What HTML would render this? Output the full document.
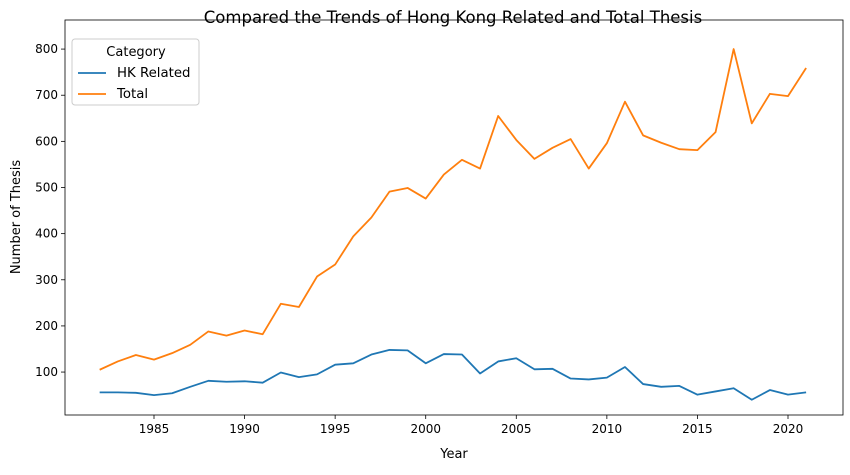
<!DOCTYPE html>
<html><head><meta charset="utf-8"><style>
body{margin:0;background:#fff;font-family:"Liberation Sans","DejaVu Sans",sans-serif}
svg text{font-family:"DejaVu Sans","Liberation Sans",sans-serif}
</style></head><body>
<svg id="c" width="850" height="470"></svg>
<script>
const years=[];for(let y=1982;y<=2021;y++)years.push(y);
const hkRelated=[56,56,55,50,54,68,81,79,80,77,99,89,95,116,119,138,148,147,119,139,138,97,123,130,106,107,86,84,88,111,74,68,70,51,58,65,40,61,51,56];
const total=[105,123,137,127,141,159,188,179,190,182,248,241,307,333,394,435,491,499,476,528,560,541,655,603,562,586,605,541,596,686,613,597,583,581,620,800,639,703,698,759];
const yTicks=[100,200,300,400,500,600,700,800];
const xTicks=[1985,1990,1995,2000,2005,2010,2015,2020];
const NS='http://www.w3.org/2000/svg',svg=document.getElementById('c');
const L=65,R=843,T=20,B=415;
const xs=y=>154+(y-1985)*(788-154)/35;
const ys=v=>418.2-v*0.4614;
function el(t,a,p){const e=document.createElementNS(NS,t);for(const k in a)e.setAttribute(k,a[k]);(p||svg).appendChild(e);return e;}
const frame=el('rect',{x:L,y:T,width:R-L,height:B-T,fill:'none',stroke:'#000','stroke-width':0.8});


yTicks.forEach(v=>{const y=ys(v);
 el('line',{x1:L-4,x2:L,y1:y,y2:y,stroke:'#000','stroke-width':0.8});
 const t=el('text',{x:L-7,y:y+4,'text-anchor':'end','font-size':12});t.textContent=v;
 
 });
xTicks.forEach(v=>{const x=xs(v);
 el('line',{x1:x,x2:x,y1:B,y2:B+4,stroke:'#000','stroke-width':0.8});
 const t=el('text',{x:x,y:B+18,'text-anchor':'middle','font-size':12});t.textContent=v;
 
 });
function line(d,c,n){const p=el('polyline',{points:d.map((v,i)=>xs(years[i])+','+ys(v)).join(' '),fill:'none',stroke:c,'stroke-width':1.8,'stroke-linejoin':'round'});
 
 }
line(hkRelated,'#1f77b4','hk-related-line');
line(total,'#ff7f0e','total-line');
let t=el('text',{x:453,y:23,'text-anchor':'middle','font-size':16.5});t.textContent='Compared the Trends of Hong Kong Related and Total Thesis';


t=el('text',{x:454,y:458,'text-anchor':'middle','font-size':13});t.textContent='Year';


t=el('text',{x:20,y:217,'text-anchor':'middle','font-size':13,transform:'rotate(-90 20 217)'});t.textContent='Number of Thesis';


const lg=el('g',{});


el('rect',{x:72,y:39,width:127,height:66,rx:3,fill:'#fff',stroke:'#ccc','stroke-width':1},lg);
t=el('text',{x:136,y:56,'text-anchor':'middle','font-size':13},lg);t.textContent='Category';
[['HK Related','#1f77b4',77],['Total','#ff7f0e',98]].forEach(([n,c,y])=>{
 el('line',{x1:78,x2:106,y1:y-4,y2:y-4,stroke:c,'stroke-width':1.8},lg);
 const e=el('text',{x:117,y:y,'font-size':13.3},lg);e.textContent=n;
 
 });
</script>
</body></html>
